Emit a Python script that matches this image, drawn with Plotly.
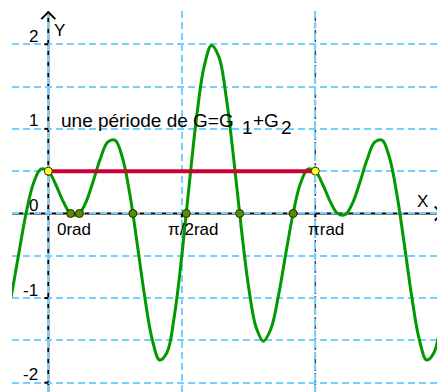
import plotly.graph_objects as go

# ---- data ----
curve_x = [-0.4363, -0.3491, -0.2618, -0.1745, -0.0873, 0.0, 0.0873, 0.1745, 0.2618, 0.3491,
           0.4363, 0.5236, 0.6109, 0.6981, 0.7854, 0.8727, 0.9599, 1.0472, 1.1345, 1.2217,
           1.3090, 1.3963, 1.4835, 1.5708, 1.6581, 1.7453, 1.8326, 1.9199, 2.0071, 2.0944,
           2.1817, 2.2689, 2.3562, 2.4435, 2.5307, 2.6180, 2.7053, 2.7925, 2.8798, 2.9671,
           3.0543, 3.1416, 3.2289, 3.3161, 3.4034, 3.4907, 3.5779, 3.6652, 3.7525, 3.8397,
           3.9270, 4.0143, 4.1015, 4.1888, 4.2761, 4.3633, 4.4506, 4.5379, 4.6251]
curve_y = [-0.985, -0.485, 0.0, 0.357, 0.524, 0.5, 0.342, 0.143, 0.0, -0.015,
           0.119, 0.366, 0.643, 0.842, 0.866, 0.658, 0.223, -0.366, -0.985, -1.485,
           -1.732, -1.643, -1.208, -0.5, 0.342, 1.143, 1.732, 1.985, 1.851, 1.366,
           0.643, -0.158, -0.866, -1.342, -1.509, -1.366, -0.985, -0.485, 0.0, 0.357,
           0.524, 0.5, 0.342, 0.143, 0.0, -0.015, 0.119, 0.366, 0.643, 0.842,
           0.866, 0.658, 0.223, -0.366, -0.985, -1.485, -1.732, -1.643, -1.208]

zeros_x = [0.2618, 0.3665, 0.9948, 1.6232, 2.2515, 2.8798]
zeros_y = [0, 0, 0, 0, 0, 0]

period_x = [0.0, 3.1416]
period_y = [0.5, 0.5]

x_tick_vals = [0.0, 1.5708, 3.1416]
x_tick_text = ["0rad", "π/2rad", "πrad"]
y_tick_vals = [2, 1, 0, -1, -2]
y_tick_text = ["2", "1", "0", "-1", "-2"]

# caption "une période de G=G1+G2" split into pieces (subscripts drawn lowered)
caption_parts = ["une période de G=G", "1", "+G", "2"]
caption_is_sub = [False, True, False, True]

# ---- view / style ----
X_RANGE = [-0.427, 4.573]
Y_RANGE = [-2.110, 2.393]
FONT = "Liberation Sans, Arial, sans-serif"
GRID = "#74d0ff"
caption_px = [11, 192, 203, 231]   # left edge of each piece, pixels right of the y axis
caption_y = 1.10

fig = go.Figure()

fig.add_trace(go.Scatter(x=curve_x, y=curve_y, mode="lines",
                         line=dict(color="#009900", width=3, shape="spline", smoothing=1),
                         hoverinfo="skip", showlegend=False))
fig.add_trace(go.Scatter(x=period_x, y=period_y, mode="lines",
                         line=dict(color="#cc0033", width=4),
                         hoverinfo="skip", showlegend=False))
fig.add_trace(go.Scatter(x=zeros_x, y=zeros_y, mode="markers",
                         marker=dict(size=8, color="#5e8c00", line=dict(color="#1f2a00", width=1)),
                         hoverinfo="skip", showlegend=False))
fig.add_trace(go.Scatter(x=period_x, y=period_y, mode="markers",
                         marker=dict(size=8, color="#ffff33", line=dict(color="#333300", width=1)),
                         hoverinfo="skip", showlegend=False))

shapes = []
# dark dashed vertical line at end of period
shapes.append(dict(type="line", xref="x", yref="y", x0=period_x[1], x1=period_x[1],
                   y0=Y_RANGE[0], y1=Y_RANGE[1], layer="below",
                   line=dict(color="#444444", width=1.5, dash="5px,2px")))
# axes
y_tip = 2.38
x_tip = 4.63
shapes.append(dict(type="line", xref="x", yref="y", x0=0, x1=0, y0=Y_RANGE[0], y1=y_tip,
                   layer="below", line=dict(color="black", width=2)))
shapes.append(dict(type="line", xref="x", yref="y", x0=X_RANGE[0], x1=x_tip, y0=0, y1=0,
                   layer="below", line=dict(color="black", width=2)))
shapes.append(dict(type="path", xref="x", yref="y", xsizemode="pixel", ysizemode="pixel",
                   xanchor=0, yanchor=y_tip, path="M-7,-7 L0,0 L7,-7",
                   line=dict(color="black", width=2)))
shapes.append(dict(type="path", xref="x", yref="y", xsizemode="pixel", ysizemode="pixel",
                   xanchor=x_tip, yanchor=0, path="M-7,7 L0,0 L-7,-7",
                   line=dict(color="black", width=2)))
# ticks
for v in y_tick_vals:
    if v != 0:
        shapes.append(dict(type="line", xref="x", yref="y", xsizemode="pixel", xanchor=0,
                           x0=-4, x1=0, y0=v, y1=v, line=dict(color="black", width=2)))
for v in x_tick_vals[1:]:
    shapes.append(dict(type="line", xref="x", yref="y", ysizemode="pixel", yanchor=0,
                       x0=v, x1=v, y0=-4, y1=0, line=dict(color="black", width=2)))

annotations = []
x_label_shift = [7, 11, 11]
x_label_anchor = ["left", "center", "center"]
for v, t, s, a in zip(x_tick_vals, x_tick_text, x_label_shift, x_label_anchor):
    annotations.append(dict(x=v, y=0, xref="x", yref="y", text=t, showarrow=False,
                            xanchor=a, yanchor="middle", xshift=s, yshift=-16,
                            font=dict(family=FONT, size=17, color="black")))
for v, t in zip(y_tick_vals, y_tick_text):
    annotations.append(dict(x=0, y=v, xref="x", yref="y", text=t, showarrow=False,
                            xanchor="right", yanchor="middle", xshift=-8, yshift=8,
                            font=dict(family=FONT, size=17, color="black")))
annotations.append(dict(x=0, y=2.165, xref="x", yref="y", text="Y", showarrow=False,
                        xanchor="left", yanchor="middle", xshift=4,
                        font=dict(family=FONT, size=17, color="black")))
annotations.append(dict(x=4.408, y=0, xref="x", yref="y", text="X", showarrow=False,
                        xanchor="center", yanchor="middle", yshift=12,
                        font=dict(family=FONT, size=17, color="black")))
for t, is_sub, px in zip(caption_parts, caption_is_sub, caption_px):
    annotations.append(dict(x=0, y=caption_y, xref="x", yref="y", text=t, showarrow=False,
                            xanchor="left", yanchor="middle", xshift=px,
                            yshift=-7 if is_sub else 0,
                            font=dict(family=FONT, size=19, color="black")))

fig.update_layout(
    width=437, height=392,
    margin=dict(l=12, r=0, t=11, b=0),
    paper_bgcolor="white", plot_bgcolor="white",
    shapes=shapes, annotations=annotations,
    xaxis=dict(range=X_RANGE, showticklabels=False, ticks="", zeroline=False,
               showgrid=True, gridcolor=GRID, gridwidth=1.5, griddash="7px,4px",
               tick0=0, dtick=1.5708, showline=False, fixedrange=True),
    yaxis=dict(range=Y_RANGE, showticklabels=False, ticks="", zeroline=False,
               showgrid=True, gridcolor=GRID, gridwidth=1.5, griddash="7px,4px",
               tick0=0, dtick=0.5, showline=False, fixedrange=True),
    showlegend=False,
)

fig.write_html("out.html", config={"displayModeBar": False},
               post_script="document.body.style.margin='0px';document.body.style.overflow='hidden';")
